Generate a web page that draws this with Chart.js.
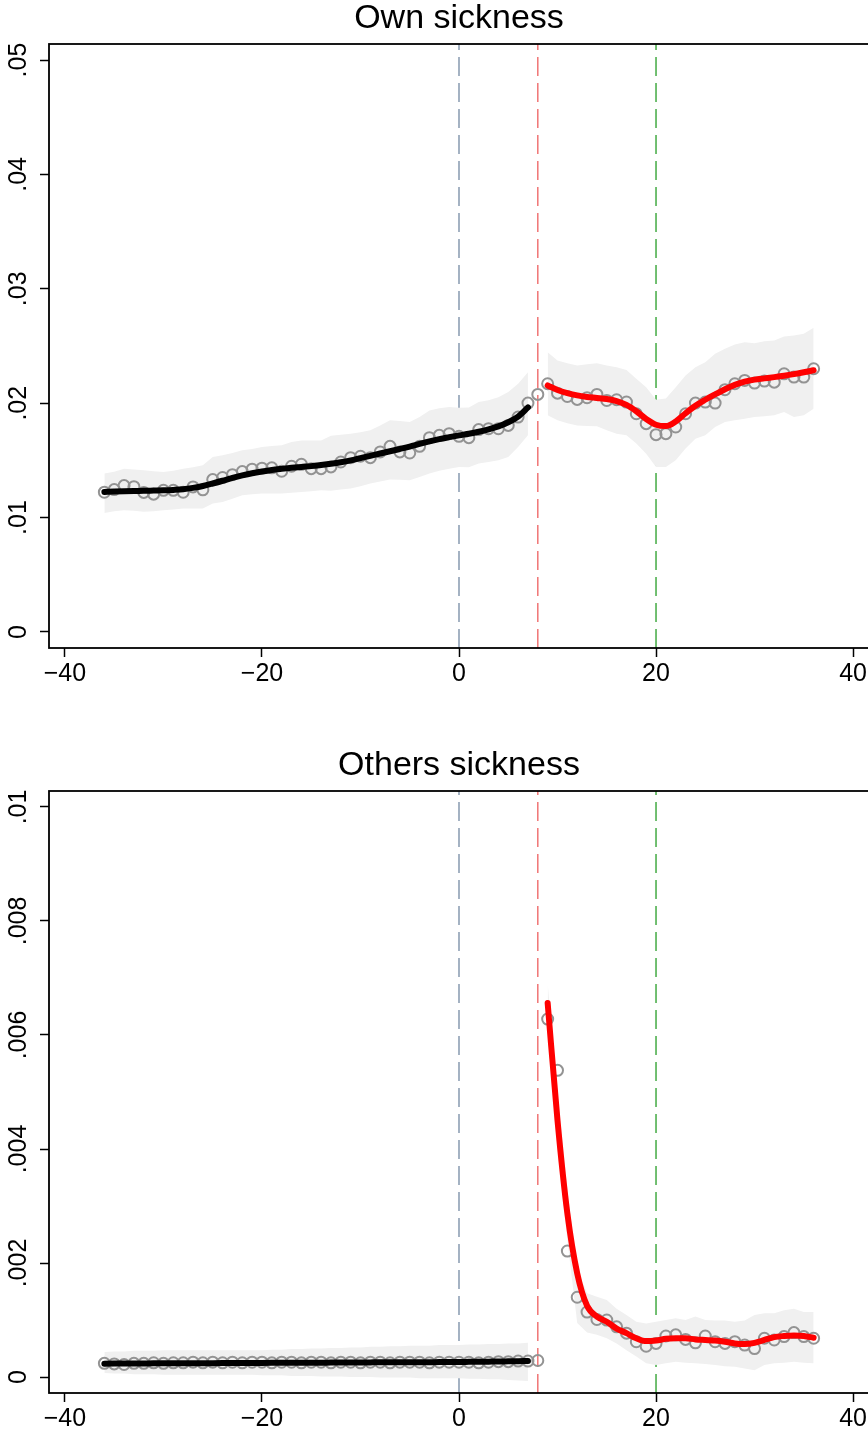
<!DOCTYPE html>
<html>
<head>
<meta charset="utf-8">
<title>Own and others sickness</title>
<script src="https://cdn.jsdelivr.net/npm/chart.js@4.4.1/dist/chart.umd.min.js"></script>
<style>
  html, body { margin: 0; padding: 0; background: #fff; overflow: hidden; }
  body { width: 868px; height: 1437px; position: relative; }
  canvas { position: absolute; left: 0; }
  #ownChart { top: 0; }
  #othersChart { top: 747px; }
</style>
</head>
<body>
<canvas id="ownChart" width="900" height="700"></canvas>
<canvas id="othersChart" width="900" height="700"></canvas>
<script>
const weeks = [-36, -35, -34, -33, -32, -31, -30, -29, -28, -27, -26, -25, -24,
    -23, -22, -21, -20, -19, -18, -17, -16, -15, -14, -13, -12, -11, -10, -9,
    -8, -7, -6, -5, -4, -3, -2, -1, 0, 1, 2, 3, 4, 5, 6, 7, 8, 9, 10, 11, 12,
    13, 14, 15, 16, 17, 18, 19, 20, 21, 22, 23, 24, 25, 26, 27, 28, 29, 30, 31,
    32, 33, 34, 35, 36];

// Own sickness: binned means, fitted curve, confidence band (null = no value)
const ownPoints = [.01222, .01245, .01280, .01270, .01220, .01205, .01238, .01238,
    .01222, .01268, .01243, .01332, .01350, .01375, .01402, .01423, .01432, .01435,
    .01405, .01449, .01466, .01428, .01428, .01443, .01486, .01524, .01536, .01524,
    .01574, .01623, .01574, .01565, .01623, .01699, .01719, .01734, .01710, .01699,
    .01769, .01777, .01777, .01806, .01879, .02001, .02077,
    .02170, .02088, .02059, .02033, .02048, .02077, .02024, .02030, .02010, .01908,
    .01821, .01725, .01734, .01792, .01908, .02001, .02010, .02001, .02118, .02170,
    .02199, .02176, .02193, .02184, .02257, .02228, .02228, .02301];
const ownFit = [.01224, .01228, .01231, .01233, .01234, .01236, .01238, .01242,
    .01248, .01260, .01276, .01298, .01322, .01347, .01369, .01388, .01403, .01416,
    .01426, .01435, .01443, .01450, .01460, .01471, .01484, .01500, .01520, .01540,
    .01560, .01580, .01600, .01621, .01644, .01666, .01686, .01703, .01719, .01733,
    .01750, .01771, .01797, .01833, .01882, .01963, null,
    .02155, .02115, .02088, .02068, .02055, .02046, .02036, .02018, .01985, .01930,
    .01862, .01812, .01800, .01840, .01912, .01978, .02030, .02077, .02122, .02160,
    .02188, .02206, .02217, .02228, .02240, .02254, .02270, .02288];
const ownHi = [.01385, .01400, .01428, .01420, .01414, .01405, .01399, .01410,
    .01428, .01440, .01457, .01530, .01545, .01565, .01588, .01600, .01617, .01625,
    .01632, .01660, .01675, .01675, .01675, .01715, .01725, .01734, .01745, .01763,
    .01806, .01850, .01845, .01835, .01880, .01937, .01955, .01966, .01961, .01962,
    .02010, .02025, .02053, .02097, .02170, .02271, null,
    .02446, .02373, .02350, .02330, .02340, .02350, .02330, .02315, .02290, .02214,
    .02140, .02030, .02040, .02140, .02243, .02315, .02359, .02432, .02476, .02513,
    .02533, .02525, .02542, .02548, .02583, .02592, .02606, .02659];
const ownLo = [.01041, .01055, .01065, .01060, .01050, .01055, .01065, .01070,
    .01080, .01080, .01080, .01123, .01137, .01165, .01195, .01205, .01210, .01210,
    .01210, .01218, .01224, .01230, .01239, .01235, .01245, .01254, .01275, .01297,
    .01315, .01332, .01330, .01326, .01355, .01385, .01410, .01428, .01443, .01440,
    .01472, .01485, .01501, .01530, .01617, .01719, null,
    .01894, .01850, .01825, .01806, .01800, .01798, .01763, .01734, .01719, .01647,
    .01559, .01443, .01443, .01501, .01603, .01690, .01719, .01792, .01835, .01850,
    .01865, .01879, .01885, .01894, .01922, .01879, .01894, .01952];

// Others sickness
const othersPoints = [.00024, .00023, .00022, .00024, .00024, .00025, .00024, .00025,
    .00025, .00026, .00025, .00026, .00025, .00026, .00025, .00026, .00026, .00025,
    .00026, .00026, .00025, .00026, .00026, .00025, .00026, .00026, .00025, .00026,
    .00026, .00025, .00026, .00026, .00026, .00025, .00026, .00026, .00026, .00026,
    .00025, .00026, .00027, .00027, .00028, .00028, .00029,
    .00628, .00538, .00221, .00140, .00114, .00101, .00100, .00088, .00077, .00062,
    .00054, .00059, .00072, .00074, .00066, .00060, .00072, .00062, .00059, .00062,
    .00056, .00050, .00068, .00065, .00071, .00078, .00071, .00068];
const othersFit = [.000235, .000236, .000237, .000238, .000239, .00024, .00024, .00024,
    .000241, .000242, .000243, .000244, .000245, .000246, .000246, .000247, .000248,
    .000249, .00025, .00025, .00025, .000251, .000252, .000253, .000254, .000255,
    .000256, .000257, .000258, .000258, .000259, .00026, .00026, .000261, .000262,
    .000263, .000264, .000266, .000268, .00027, .000272, .000275, .000278, .000282, null,
    .00656, .00450, .00287, .00182, .00125, .00106, .00097, .00085, .00077, .00068,
    .00063, .00064, .00067, .00068, .00068, .00066, .00065, .00064, .00062, .00059,
    .00058, .00060, .00065, .00070, .00072, .00073, .00072, .00069];
const othersHi = [.00044, .00045, .00045, .00046, .00046, .00046, .00047, .00047,
    .00047, .00047, .00047, .00047, .00047, .00047, .00047, .00047, .00047, .00048,
    .00048, .00049, .00049, .00050, .00050, .00051, .00051, .00052, .00052, .00053,
    .00053, .00054, .00054, .00055, .00055, .00055, .00056, .00056, .00056, .00057,
    .00057, .00058, .00058, .00059, .00059, .00060, null,
    .0069, .0050, .0033, .00190, .00147, .00141, .00135, .00120, .00109, .00097,
    .00094, .00097, .00100, .00103, .00100, .00106, .00100, .00099, .00099, .00097,
    .00099, .00109, .00112, .00112, .00117, .00120, .00114, .00114];
const othersLo = [.00007, .00006, .00006, .00005, .00005, .00005, .00004, .00004,
    .00004, .00004, .00004, .00004, .00004, .00004, .00004, .00004, .00003, .00003,
    .00003, .00002, .00002, .00002, .00001, .00001, .00001, 0, 0, 0,
    -.00001, -.00001, -.00001, -.00001, -.00002, -.00002, -.00002, -.00002, -.00002,
    -.00003, -.00003, -.00004, -.00004, -.00005, -.00006, -.00007, null,
    .0062, .0040, .0024, .00095, .00078, .00074, .00068, .00059, .00047, .00036,
    .00024, .00021, .00024, .00027, .00025, .00024, .00023, .00021, .00019, .00018,
    .00015, .00012, .00021, .00024, .00025, .00027, .00025, .00024];

const cutoffs = [0, 8, 20];
const xTicks = [-40, -20, 0, 20, 40];
const xLabels = ['\u221240', '\u221220', '0', '20', '40'];
const ownTicks = [0, .01, .02, .03, .04, .05];
const ownLabels = ['0', '.01', '.02', '.03', '.04', '.05'];
const othersTicks = [0, .002, .004, .006, .008, .01];
const othersLabels = ['0', '.002', '.004', '.006', '.008', '.01'];

const FONT = '"Liberation Sans", Arial, Helvetica, sans-serif';
const cutoffColors = ['#7f93aa', '#ef6b6b', '#36a436'];

function seg(ys, from, to) {
    const out = [];
    weeks.forEach((x, i) => {
        if (x >= from && x <= to && ys[i] !== null) out.push({x: x, y: ys[i]});
    });
    return out;
}

function makeChart(id, title, pts, fit, lo, hi, yTicks, yLabels, yMin, yMax, padBottom) {
    const fitLine = (data, color) => ({
        data, showLine: true, borderColor: color, borderWidth: 6,
        pointRadius: 0, cubicInterpolationMode: 'monotone', borderCapStyle: 'round', fill: false
    });
    const band = (data, fill) => ({
        data, showLine: true, borderWidth: 0, borderColor: 'rgba(0,0,0,0)',
        pointRadius: 0, tension: 0, fill: fill, backgroundColor: '#f0f0f0'
    });
    const vlines = cutoffs.map((c, i) => ({
        data: [{x: c, y: yMin}, {x: c, y: yMax}], showLine: true,
        borderColor: cutoffColors[i], borderWidth: 1.4, borderDash: [19, 7],
        pointRadius: 0, fill: false
    }));

    const frame = {
        id: 'frame',
        afterDraw(chart) {
            const {ctx, chartArea: a} = chart;
            const ys = chart.scales.y;
            ctx.save();
            ctx.strokeStyle = '#000';
            ctx.lineWidth = 1.8;
            ctx.strokeRect(a.left, a.top, a.right - a.left, a.bottom - a.top);
            ctx.fillStyle = '#000';
            ctx.font = '25px ' + FONT;
            ctx.textAlign = 'center';
            ctx.textBaseline = 'middle';
            ys.ticks.forEach((t, i) => {
                ctx.save();
                ctx.translate(19, ys.getPixelForValue(t.value));
                ctx.rotate(-Math.PI / 2);
                ctx.fillText(yLabels[i], 0, 0);
                ctx.restore();
            });
            ctx.restore();
        }
    };

    const tickGrid = {
        display: true, drawOnChartArea: false, drawTicks: true,
        tickLength: 9, tickWidth: 1.5, tickColor: '#000'
    };

    return new Chart(document.getElementById(id).getContext('2d'), {
        type: 'scatter',
        data: {
            datasets: [
                fitLine(seg(fit, 9, 36), '#ff0000'),
                fitLine(seg(fit, -36, 7), '#000000'),
                {
                    data: seg(pts, -36, 36), pointRadius: 5.5, pointBorderWidth: 2,
                    pointBorderColor: '#939393', pointBackgroundColor: 'rgba(0,0,0,0)'
                },
                band(seg(hi, -36, 7), '+1'),
                band(seg(lo, -36, 7), false),
                band(seg(hi, 9, 36), '+1'),
                band(seg(lo, 9, 36), false),
                ...vlines
            ]
        },
        options: {
            responsive: false,
            animation: false,
            layout: { padding: { left: 0, right: 31, top: 0, bottom: padBottom } },
            plugins: {
                legend: { display: false },
                tooltip: { enabled: false },
                title: {
                    display: true, text: title, fullSize: false, color: '#000',
                    font: { family: FONT, size: 34, weight: 'normal', lineHeight: 1 },
                    padding: { top: 2, bottom: 8 }
                }
            },
            scales: {
                x: {
                    type: 'linear', min: -41.62, max: 41.62,
                    afterBuildTicks: s => { s.ticks = xTicks.map(v => ({value: v})); },
                    afterFit: s => { s.height = 40; },
                    grid: tickGrid,
                    border: { display: false },
                    ticks: {
                        color: '#000', padding: 2, maxRotation: 0, autoSkip: false,
                        font: { family: FONT, size: 25 },
                        callback: (v, i) => xLabels[i]
                    }
                },
                y: {
                    type: 'linear', min: yMin, max: yMax,
                    afterBuildTicks: s => { s.ticks = yTicks.map(v => ({value: v})); },
                    afterFit: s => { s.width = 49; },
                    grid: tickGrid,
                    border: { display: false },
                    ticks: { display: false }
                }
            }
        },
        plugins: [frame]
    });
}

makeChart('ownChart', 'Own sickness', ownPoints, ownFit, ownLo, ownHi,
    ownTicks, ownLabels, -0.0014, 0.0514, 12);
makeChart('othersChart', 'Others sickness', othersPoints, othersFit, othersLo, othersHi,
    othersTicks, othersLabels, -0.00028, 0.01028, 14);
</script>
</body>
</html>
